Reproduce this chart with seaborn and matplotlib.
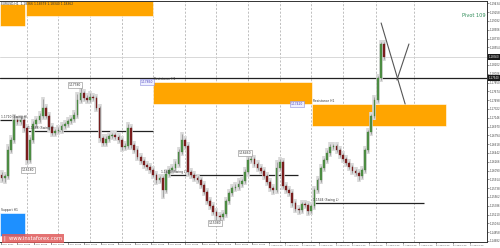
import numpy as np
import matplotlib
matplotlib.use("Agg")
import matplotlib.pyplot as plt
import matplotlib.transforms as mtransforms
from matplotlib.patches import Rectangle
import seaborn as sns

# ---------------- data ----------------
first_open = 1.1600
closes = [
    1.1594, 1.1598, 1.1650, 1.1670, 1.1710, 1.1706, 1.1710, 1.1694, 1.1630, 1.1670,
    1.1702, 1.1710, 1.1718, 1.1734, 1.1718, 1.1696, 1.1684, 1.1688, 1.1690, 1.1698,
    1.1702, 1.1708, 1.1712, 1.1720, 1.1750, 1.1764, 1.1754, 1.1750, 1.1756, 1.1754,
    1.1734, 1.1674, 1.1664, 1.1672, 1.1678, 1.1680, 1.1676, 1.1670, 1.1656, 1.1658,
    1.1694, 1.1660, 1.1650, 1.1636, 1.1628, 1.1620, 1.1616, 1.1610, 1.1600, 1.1590,
    1.1594, 1.1570, 1.1602, 1.1610, 1.1614, 1.1622, 1.1646, 1.1670, 1.1658, 1.1606,
    1.1600, 1.1594, 1.1590, 1.1580, 1.1566, 1.1548, 1.1538, 1.1526, 1.1518, 1.1516,
    1.1522, 1.1548, 1.1564, 1.1574, 1.1576, 1.1582, 1.1588, 1.1606, 1.1630, 1.1632,
    1.1622, 1.1614, 1.1608, 1.1598, 1.1586, 1.1574, 1.1570, 1.1614, 1.1626, 1.1578,
    1.1570, 1.1564, 1.1544, 1.1532, 1.1530, 1.1542, 1.1540, 1.1528, 1.1538, 1.1570,
    1.1590, 1.1614, 1.1630, 1.1644, 1.1656, 1.1658, 1.1650, 1.1640, 1.1632, 1.1624,
    1.1616, 1.1608, 1.1604, 1.1598, 1.1610, 1.1650, 1.1686, 1.1718, 1.1750, 1.1794,
    1.1862, 1.1836,
]
upper_wick_pips = [
    6, 4, 8, 6, 8, 4, 6, 4, 4, 6,
    6, 4, 6, 18, 4, 4, 4, 4, 6, 4,
    4, 4, 4, 6, 12, 10, 4, 6, 8, 4,
    4, 4, 4, 6, 4, 4, 4, 4, 4, 6,
    8, 4, 4, 4, 4, 4, 4, 4, 4, 4,
    4, 4, 6, 4, 4, 6, 6, 12, 4, 4,
    4, 4, 4, 4, 4, 4, 4, 4, 4, 4,
    4, 4, 4, 4, 6, 8, 4, 6, 6, 6,
    4, 4, 4, 4, 4, 4, 4, 12, 6, 4,
    4, 4, 4, 4, 4, 4, 4, 4, 4, 4,
    4, 4, 4, 6, 6, 4, 4, 4, 4, 4,
    4, 4, 4, 4, 4, 4, 4, 4, 6, 4,
    4, 4,
]
lower_wick_pips = [
    6, 8, 4, 4, 4, 4, 4, 6, 6, 4,
    4, 4, 4, 4, 4, 6, 4, 4, 4, 4,
    4, 4, 4, 4, 4, 4, 4, 4, 4, 4,
    4, 6, 4, 4, 4, 4, 4, 4, 6, 4,
    4, 6, 4, 4, 4, 4, 4, 4, 4, 6,
    4, 14, 4, 4, 4, 4, 4, 4, 4, 6,
    4, 4, 4, 4, 4, 4, 4, 4, 8, 10,
    4, 4, 4, 4, 4, 4, 4, 4, 4, 4,
    4, 4, 4, 4, 4, 4, 6, 4, 4, 4,
    4, 4, 6, 4, 6, 4, 4, 6, 4, 4,
    4, 4, 4, 4, 4, 4, 4, 4, 4, 4,
    4, 4, 4, 8, 4, 4, 4, 4, 4, 4,
    4, 4,
]

# supply / demand zones: start bar, end bar, low price, high price
zone_start = [-0.5, 7.7, 47.9, 98.2, -0.5]
zone_end = [7.4, 47.9, 98.2, 140.6, 7.4]
zone_low = [1.1898, 1.1918, 1.1742, 1.1698, 1.1478]
zone_high = [1.1942, 1.1960, 1.1786, 1.1742, 1.1524]
zone_kind = ["supply", "supply", "supply", "supply", "demand"]

# swing levels
swing_price = [1.1710, 1.1688, 1.1600, 1.1544]
swing_start = [-0.5, 8.0, 50.1, 98.2]
swing_end = [7.4, 47.9, 93.8, 133.7]
swing_text = ["1.1710 (Swing H)", "1.1688 (Swing L)", "1.1600 (Swing L)", "1.1544 (Swing L)"]

key_level = 1.1794
current_price = 1.1836

# projected path
proj_a_x = [120.1, 127.7]
proj_a_y = [1.1904, 1.1742]
proj_b_x = [125.1, 128.9]
proj_b_y = [1.1790, 1.1862]

# extreme price tags
tag_x = [8.4, 23.2, 67.5, 77.0]
tag_y = [1.1610, 1.1780, 1.1504, 1.1644]
tag_text = ["1.16180", "1.17780", "1.15080", "1.16460"]
zone_tag_x = [46.0, 93.5]
zone_tag_y = [1.1786, 1.1742]
zone_tag_text = ["1.17860", "1.17420"]

price_ticks_top = 1.19434
price_tick_step = 0.00176

date_labels = [
    "20 Jul 2017", "20 Jul 12:00", "21 Jul 00:00", "21 Jul 12:00", "24 Jul 00:00",
    "24 Jul 12:00", "25 Jul 00:00", "25 Jul 12:00", "26 Jul 00:00", "26 Jul 12:00",
    "27 Jul 00:00", "27 Jul 12:00", "28 Jul 00:00", "28 Jul 12:00", "31 Jul 00:00",
    "31 Jul 12:00", "1 Aug 00:00", "1 Aug 12:00", "2 Aug 00:00", "2 Aug 12:00",
    "3 Aug 00:00", "3 Aug 12:00", "4 Aug 00:00", "4 Aug 12:00", "7 Aug 00:00",
    "7 Aug 12:00", "8 Aug 00:00", "8 Aug 12:00", "9 Aug 00:00",
]
day_grid = [8, 18, 28, 38, 48, 58, 68, 78, 88, 98, 108, 118.5, 130.5]

# ---------------- drawing ----------------
sns.set_theme(style="white")
plt.rcParams["font.family"] = ["DejaVu Sans"]

fig = plt.figure(figsize=(5, 2.48), dpi=100)
fig.patch.set_facecolor("white")
ax = fig.add_axes([0, 6 / 248, 487 / 500, 241 / 248])
ax.set_facecolor("white")

closes_a = np.array(closes)
opens_a = np.r_[first_open, closes_a[:-1]]
highs = np.maximum(opens_a, closes_a) + np.array(upper_wick_pips) * 0.0001
lows = np.minimum(opens_a, closes_a) - np.array(lower_wick_pips) * 0.0001
idx = np.arange(len(closes_a))
bull = closes_a >= opens_a

for g in day_grid:
    ax.axvline(g, color="#b4b4b4", lw=0.6, ls=(0, (2.5, 2)), zorder=0.5)

ax.axhline(current_price, color="#d2d2d2", lw=0.6, zorder=0.6)

for x0, x1, lo, hi, kind in zip(zone_start, zone_end, zone_low, zone_high, zone_kind):
    col = "#FFA500" if kind == "supply" else "#1E90FF"
    ax.add_patch(Rectangle((x0, lo), x1 - x0, hi - lo, facecolor=col,
                           edgecolor="white", lw=0.4, zorder=1))

ax.axhline(key_level, color="#222222", lw=0.9, zorder=1.5)
for p, s, e in zip(swing_price, swing_start, swing_end):
    ax.hlines(p, s, e, color="#222222", lw=0.9, zorder=1.5)

# candles
ax.vlines(idx, lows - 0.0004, highs + 0.0004, color="#d9d9d9", lw=2.6, zorder=2)
ax.vlines(idx, lows, highs, color="#8a8a8a", lw=0.5, zorder=2.2)
body = np.maximum(np.abs(closes_a - opens_a), 0.00012)
base = np.minimum(opens_a, closes_a)
ax.bar(idx[bull], body[bull], bottom=base[bull], width=0.55, color="#4f8f45",
       edgecolor="#3c7a34", lw=0.2, zorder=3)
ax.bar(idx[~bull], body[~bull], bottom=base[~bull], width=0.55, color="#7d1f1f",
       edgecolor="#6a1515", lw=0.2, zorder=3)

sns.lineplot(x=proj_a_x, y=proj_a_y, ax=ax, color="#555555", lw=0.8, zorder=4)
sns.lineplot(x=proj_b_x, y=proj_b_y, ax=ax, color="#555555", lw=0.8, zorder=4)

fs = 2.2
for x, y, t in zip(tag_x, tag_y, tag_text):
    ax.text(x, y, t, fontsize=fs, color="#333333", ha="center", va="center", zorder=6,
            bbox=dict(boxstyle="square,pad=0.25", fc="white", ec="#888888", lw=0.4))
for x, y, t in zip(zone_tag_x, zone_tag_y, zone_tag_text):
    ax.text(x, y, t, fontsize=fs, color="#4a3fbf", ha="center", va="center", zorder=6,
            bbox=dict(boxstyle="square,pad=0.25", fc="#eef0ff", ec="#8c8ce0", lw=0.4))
for p, s, t in zip(swing_price, swing_start, swing_text):
    ax.text(s + 0.3, p + 0.0002, t, fontsize=fs, color="#333333", ha="left",
            va="bottom", zorder=6)
ax.text(48.2, 1.1788, "Resistance H1", fontsize=fs, color="#333333", ha="left", va="bottom", zorder=6)
ax.text(98.5, 1.1744, "Resistance H1", fontsize=fs, color="#333333", ha="left", va="bottom", zorder=6)
ax.text(-0.3, 1.1526, "Support H1", fontsize=fs, color="#333333", ha="left", va="bottom", zorder=6)

ax.text(0.003, 0.997, "EURUSD,H1  1.18366 1.18379 1.18340 1.18362", transform=ax.transAxes,
        fontsize=fs, color="#333333", ha="left", va="top", zorder=7)
ax.text(0.998, 0.94, "Pivot 109", transform=ax.transAxes, fontsize=3.6,
        color="#2e8b57", ha="right", va="center", zorder=7)

# axes
ax.set_xlim(-0.5, 153.6)
ax.set_ylim(1.1466, 1.1948)
ax.yaxis.tick_right()
yt = price_ticks_top - price_tick_step * np.arange(0, 28)
yt = yt[yt > 1.1468]
ax.set_yticks(yt)
ax.set_yticklabels([f"{v:.5f}" for v in yt])
xt = -0.3 + 5.3 * np.arange(len(date_labels))
ax.set_xticks(xt)
ax.set_xticklabels(date_labels)
for lab in ax.get_xticklabels():
    lab.set_horizontalalignment("left")
ax.tick_params(axis="y", labelsize=1.9, length=1.2, width=0.4, pad=0.6, colors="#444444", right=True)
ax.tick_params(axis="x", labelsize=1.6, length=1.2, width=0.4, pad=0.5, colors="#444444", bottom=True)
ax.grid(False)
ax.spines["left"].set_visible(False)
for side in ["top", "bottom", "right"]:
    ax.spines[side].set_color("#333333")
    ax.spines[side].set_linewidth(0.7)

trans = mtransforms.blended_transform_factory(ax.transAxes, ax.transData)
for p in [current_price, key_level]:
    ax.text(1.003, p, f"{p:.5f}", transform=trans, fontsize=1.9, color="white",
            ha="left", va="center", zorder=8, clip_on=False,
            bbox=dict(boxstyle="square,pad=0.2", fc="#1a1a1a", ec="none"))

fig.text(4 / 500, 1 - 238.5 / 248, "|  www.instaforex.com", fontsize=3.8, color="white",
         ha="left", va="center",
         bbox=dict(boxstyle="square,pad=0.35", fc="#e05a5a", ec="none", alpha=0.85))

fig.savefig("out.png", dpi=100, facecolor="white")
